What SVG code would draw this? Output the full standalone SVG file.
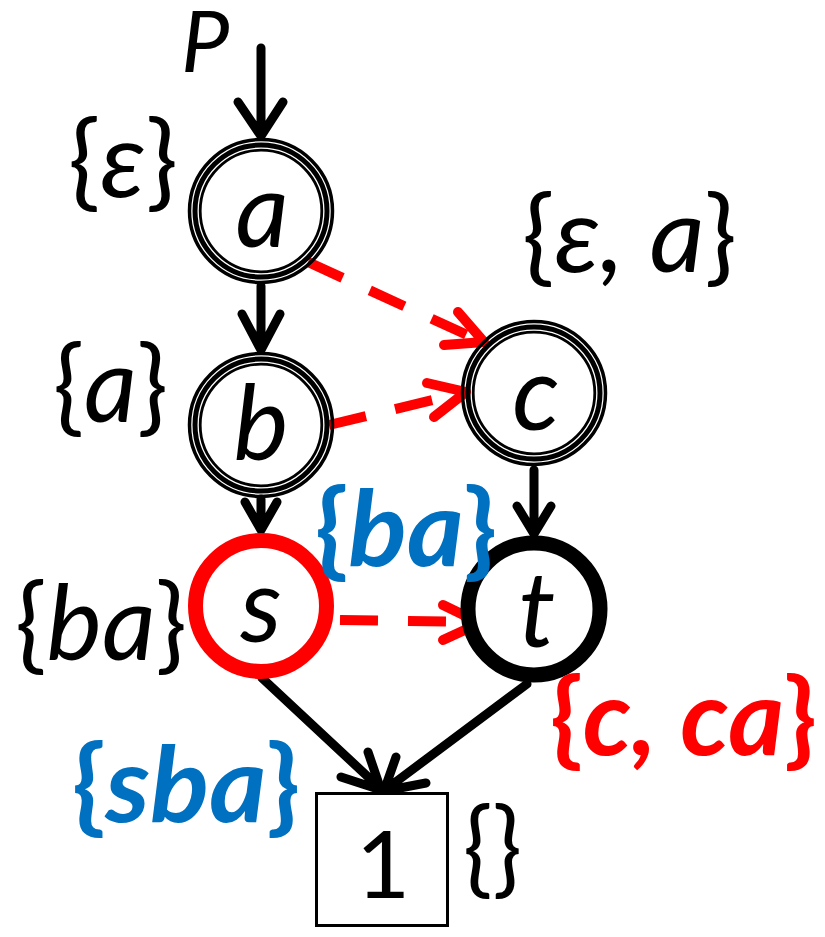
<svg xmlns="http://www.w3.org/2000/svg" width="825" height="937" viewBox="0 0 825 937">
<style>
.lbl{font-family:Lato,"Open Sans","Liberation Sans",sans-serif;font-style:italic;font-size:104px;fill:#000}
.bold{font-weight:bold;font-size:106px}
.blue{fill:#0070C0}
.red{fill:#FF0000}
.up{font-style:normal}
.ring{fill:none;stroke:#000}
.edge{fill:none;stroke:#000;stroke-width:9;stroke-linecap:round;stroke-linejoin:round}
.dash{fill:none;stroke:#FF0000;stroke-width:10;stroke-dasharray:38 30}
.dhead{fill:none;stroke:#FF0000;stroke-width:10;stroke-linecap:round;stroke-linejoin:round}
</style>
<rect width="825" height="937" fill="#fff"/>
<g id="edges">
  <path class="edge" d="M261 48 V135 M238 102 L261 136 L283 102"/>
  <path class="edge" d="M261 286 V350 M242 314 L261 350 L280 314"/>
  <path class="edge" d="M261 499 V530 M245 502 L261 530 L277 502"/>
  <path class="edge" d="M534 470 V534 M517 506 L534 534 L551 506"/>
  <path class="edge" d="M262 678 L381 789 M341 777 L381 790 L368 752"/>
  <path class="edge" d="M527 684 L385 790 M396 757 L384 791 L426 783"/>
  <path class="dash" d="M308 262 L478 340"/>
  <path class="dhead" d="M458 312 L484 342 L444 345"/>
  <path class="dash" d="M329 425 L462 393"/>
  <path class="dhead" d="M427 383 L466 392 L434 417"/>
  <path class="dash" d="M340 620 L475 622"/>
  <path class="dhead" d="M443 605 L480 623 L443 640"/>
</g>
<g id="node-a">
  <circle class="ring" cx="261" cy="211" r="71.5" stroke-width="3.5"/>
  <circle class="ring" cx="261" cy="211" r="66" stroke-width="5"/>
  <circle class="ring" cx="261" cy="211" r="60.8" stroke-width="2.8"/>
  <text class="lbl" x="262" y="247" text-anchor="middle">a</text>
</g>
<g id="node-b">
  <circle class="ring" cx="261" cy="425" r="71.5" stroke-width="3.5"/>
  <circle class="ring" cx="261" cy="425" r="66" stroke-width="5"/>
  <circle class="ring" cx="261" cy="425" r="60.8" stroke-width="2.8"/>
  <text class="lbl" x="261" y="460" text-anchor="middle">b</text>
</g>
<g id="node-c">
  <circle class="ring" cx="534" cy="393" r="71.5" stroke-width="3.5"/>
  <circle class="ring" cx="534" cy="393" r="66" stroke-width="5"/>
  <circle class="ring" cx="534" cy="393" r="60.8" stroke-width="2.8"/>
  <text class="lbl" x="536" y="430" text-anchor="middle">c</text>
</g>
<g id="node-s">
  <circle cx="261" cy="606" r="65.5" fill="#fff" stroke="#FF0000" stroke-width="15"/>
  <text class="lbl" x="261" y="642" text-anchor="middle">s</text>
</g>
<g id="node-t">
  <circle cx="534" cy="609" r="66" fill="#fff" stroke="#000" stroke-width="15"/>
  <text class="lbl" x="537" y="647" text-anchor="middle">t</text>
</g>
<g id="node-1">
  <rect x="316.5" y="793.5" width="131" height="132" fill="#fff" stroke="#000" stroke-width="3"/>
  <text class="lbl" x="383" y="898" text-anchor="middle" style="font-style:normal;font-size:94px">1</text>
</g>
<g id="labels">
  <text class="lbl" x="181" y="72" style="font-size:86px">P</text>
  <text class="lbl" x="68" y="197" textLength="110" lengthAdjust="spacingAndGlyphs"><tspan class="up">{</tspan>ε<tspan class="up">}</tspan></text>
  <text class="lbl" x="522" y="272" textLength="215" lengthAdjust="spacingAndGlyphs"><tspan class="up">{</tspan>ε, a<tspan class="up">}</tspan></text>
  <text class="lbl" x="53" y="422" textLength="115" lengthAdjust="spacingAndGlyphs"><tspan class="up">{</tspan>a<tspan class="up">}</tspan></text>
  <text class="lbl" x="15" y="660" textLength="172" lengthAdjust="spacingAndGlyphs"><tspan class="up">{</tspan>ba<tspan class="up">}</tspan></text>
  <text class="lbl bold blue" x="315" y="566" textLength="182" lengthAdjust="spacingAndGlyphs"><tspan class="up">{</tspan>ba<tspan class="up">}</tspan></text>
  <text class="lbl bold red" x="550" y="755" textLength="267" lengthAdjust="spacingAndGlyphs"><tspan class="up">{</tspan>c, ca<tspan class="up">}</tspan></text>
  <text class="lbl bold blue" x="72" y="822" textLength="228" lengthAdjust="spacingAndGlyphs"><tspan class="up">{</tspan>sba<tspan class="up">}</tspan></text>
  <text class="lbl" x="463" y="884" textLength="59" lengthAdjust="spacingAndGlyphs"><tspan class="up">{}</tspan></text>
</g>
</svg>
